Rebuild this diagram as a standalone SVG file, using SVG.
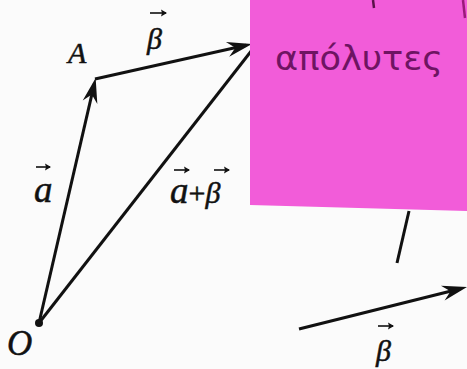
<svg xmlns="http://www.w3.org/2000/svg" width="467" height="369" viewBox="0 0 467 369">
<style>
.v{stroke:#111;stroke-width:3;fill:none;stroke-linecap:butt}
.lbl{font-family:"Liberation Serif","DejaVu Serif",serif;font-style:italic;fill:#111;stroke:#111;stroke-width:0.5}
.ov{stroke:#111;stroke-width:1.6;fill:none}
.hw{font-family:"DejaVu Sans","Liberation Sans",sans-serif;fill:#6e1462}
</style>
<defs>
<marker id="ah" markerUnits="userSpaceOnUse" viewBox="-30 -10 40 20" refX="-6" refY="0" markerWidth="40" markerHeight="20" orient="auto">
<path d="M0,0 L-25,-7.5 L-17,0 L-25,7.5 Z" fill="#111"/>
</marker>
<marker id="sm" markerUnits="userSpaceOnUse" viewBox="-8 -5 10 10" refX="0" refY="0" markerWidth="10" markerHeight="10" orient="auto">
<path d="M1,0 L-5,-3.5 L-4,0 L-5,3.5 Z" fill="#111"/>
</marker>
</defs>
<rect width="467" height="369" fill="#fbfbfb"/>
<g id="connectors">
<line class="v" x1="39" y1="323" x2="94.3" y2="83.8" marker-end="url(#ah)"/>
<line class="v" x1="95" y1="79" x2="246.1" y2="45.3" marker-end="url(#ah)"/>
<line class="v" x1="39" y1="323" x2="252" y2="50"/>
<line class="v" x1="299" y1="329" x2="461.2" y2="288.5" marker-end="url(#ah)"/>
<line class="v" x1="409" y1="211" x2="397" y2="263"/>
</g>
<g id="node-O">
<circle cx="39" cy="323" r="4" fill="#111"/>
<text class="lbl" x="7" y="355" font-size="35">O</text>
</g>
<g id="node-A">
<text class="lbl" x="68" y="63" font-size="30">A</text>
</g>
<g id="label-beta-top">
<text class="lbl" x="147" y="49" font-size="30">β</text>
<line class="ov" x1="150" y1="13" x2="166" y2="13" marker-end="url(#sm)"/>
</g>
<g id="label-a">
<text class="lbl" x="34" y="202" font-size="37">a</text>
<line class="ov" x1="36" y1="167" x2="50" y2="167" marker-end="url(#sm)"/>
</g>
<g id="label-sum">
<text class="lbl" x="170" y="203" font-size="37">a<tspan font-style="normal" font-size="30">+</tspan><tspan font-size="30">β</tspan></text>
<line class="ov" x1="174" y1="170" x2="189" y2="170" marker-end="url(#sm)"/>
<line class="ov" x1="214" y1="170" x2="229" y2="170" marker-end="url(#sm)"/>
</g>
<g id="sticky-note">
<polygon points="250,0 467,0 467,211 250,205" fill="#f25cd9"/>
<line x1="373" y1="0" x2="374" y2="8" stroke="#5a1048" stroke-width="2.5"/>
<line x1="463" y1="0" x2="465" y2="18" stroke="#9a1a78" stroke-width="2.5"/>
<text class="hw" x="275" y="70" font-size="34" textLength="168" lengthAdjust="spacingAndGlyphs">απόλυτες</text>
</g>
<g id="label-beta-bottom">
<text class="lbl" x="376" y="361" font-size="30">β</text>
<line class="ov" x1="378" y1="326" x2="393" y2="326" marker-end="url(#sm)"/>
</g>
</svg>
